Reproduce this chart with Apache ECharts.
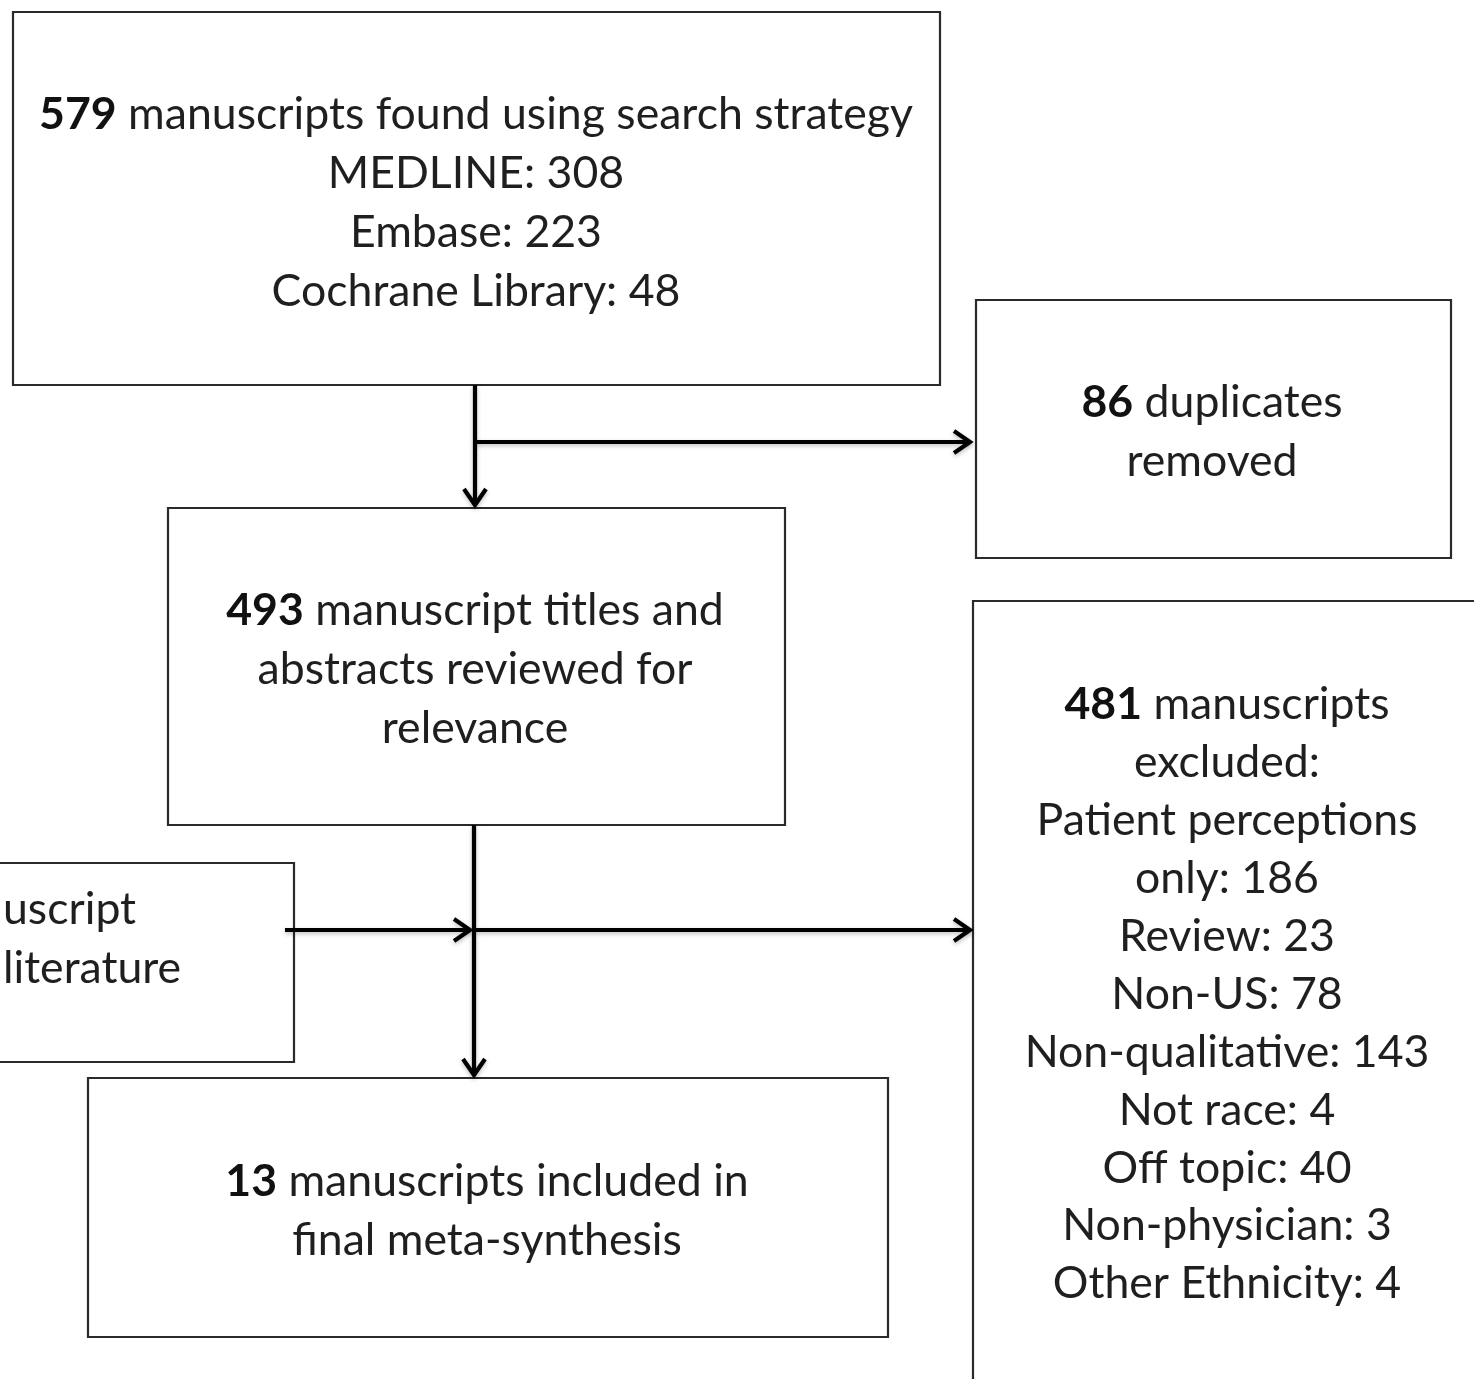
<!DOCTYPE html>
<html>
<head>
<meta charset="utf-8">
<script src="https://cdn.jsdelivr.net/npm/echarts@6/dist/echarts.min.js"></script>
<style>
  html, body { margin: 0; padding: 0; background: #fff; }
  #chart { width: 1474px; height: 1379px; }
</style>
</head>
<body>
<div id="chart"></div>
<script>
// ---- Data (counts) ----
const searchTotal = 579;
const sourceNames = ['MEDLINE', 'Embase', 'Cochrane Library'];
const sourceCounts = [308, 223, 48];
const duplicatesRemoved = 86;
const screenedCount = 493;
const excludedTotal = 481;
const exclusionReasons = ['Review', 'Non-US', 'Non-qualitative', 'Not race', 'Off topic', 'Non-physician', 'Other Ethnicity'];
const exclusionCounts = [23, 78, 143, 4, 40, 3, 4];
const patientPerceptionsOnly = 186;
const includedCount = 13;

// ---- Text content per box ----
const boxTexts = [
  ['{b|' + searchTotal + '} manuscripts found using search strategy']
    .concat(sourceNames.map((n, i) => n + ': ' + sourceCounts[i])),
  ['{b|' + duplicatesRemoved + '} duplicates', 'removed'],
  ['{b|' + screenedCount + '} manuscript titles and', 'abstracts reviewed for', 'relevance'],
  ['uscript', 'literature'],
  ['{b|' + includedCount + '} manuscripts included in', 'final meta-synthesis'],
  ['{b|' + excludedTotal + '} manuscripts', 'excluded:', 'Patient perceptions', 'only: ' + patientPerceptionsOnly]
    .concat(exclusionReasons.map((n, i) => n + ': ' + exclusionCounts[i]))
];

// ---- Layout (pixel space of the diagram) ----
const boxRects = [
  [13, 12, 940, 385],
  [976, 300, 1451, 558],
  [168, 508, 785, 825],
  [-20, 863, 294, 1062],
  [88, 1078, 888, 1337],
  [973, 601, 1490, 1400]
];
const textAnchors = [
  { x: 476, y: 115, step: 59, align: 'center' },
  { x: 1212, y: 403, step: 59, align: 'center' },
  { x: 475, y: 611, step: 59, align: 'center' },
  { x: 3, y: 910, step: 59, align: 'left' },
  { x: 487, y: 1182, step: 59, align: 'center' },
  { x: 1227, y: 705, step: 57.9, align: 'center' }
];
const arrows = [
  [[475, 385], [475, 505]],
  [[475, 442], [970, 442]],
  [[474, 825], [474, 1075]],
  [[285, 930], [470, 930]],
  [[474, 930], [970, 930]]
];

const FONT = 'Lato, "Open Sans", sans-serif';
const FONT_SIZE = 44.6;
const TEXT_COLOR = '#1f1f1f';

const chart = echarts.init(document.getElementById('chart'), null, { renderer: 'canvas' });

const option = {
  backgroundColor: '#ffffff',
  animation: false,
  grid: { left: 0, right: 0, top: 0, bottom: 0 },
  xAxis: { type: 'value', min: 0, max: 1474, show: false },
  yAxis: { type: 'value', min: 0, max: 1379, inverse: true, show: false },
  series: [
    {
      type: 'custom',
      name: 'boxes',
      coordinateSystem: 'cartesian2d',
      clip: false,
      data: boxRects,
      renderItem: function (params, api) {
        const p0 = api.coord([api.value(0), api.value(1)]);
        const p1 = api.coord([api.value(2), api.value(3)]);
        return {
          type: 'rect',
          shape: { x: p0[0], y: p0[1], width: p1[0] - p0[0], height: p1[1] - p0[1] },
          style: { fill: '#ffffff', stroke: '#2a2a2a', lineWidth: 2.2 }
        };
      }
    },
    {
      type: 'custom',
      name: 'arrows',
      coordinateSystem: 'cartesian2d',
      clip: false,
      data: arrows.map(a => [a[0][0], a[0][1], a[1][0], a[1][1]]),
      renderItem: function (params, api) {
        const a = api.coord([api.value(0), api.value(1)]);
        const b = api.coord([api.value(2), api.value(3)]);
        const dx = b[0] - a[0], dy = b[1] - a[1];
        const len = Math.sqrt(dx * dx + dy * dy);
        const ux = dx / len, uy = dy / len;
        const hl = 16, hw = 11;
        const c1 = [b[0] - ux * hl - uy * hw, b[1] - uy * hl + ux * hw];
        const c2 = [b[0] - ux * hl + uy * hw, b[1] - uy * hl - ux * hw];
        const st = { stroke: '#000', lineWidth: 4.2, fill: null, lineJoin: 'miter', lineCap: 'butt',
                     shadowColor: 'rgba(0,0,0,0.25)', shadowBlur: 4, shadowOffsetY: 2 };
        return {
          type: 'group',
          children: [
            { type: 'line', shape: { x1: a[0], y1: a[1], x2: b[0] - ux * 1, y2: b[1] - uy * 1 }, style: st },
            { type: 'polyline', shape: { points: [c1, [b[0], b[1]], c2] }, style: st }
          ]
        };
      }
    },
    {
      type: 'custom',
      name: 'texts',
      coordinateSystem: 'cartesian2d',
      clip: false,
      data: textAnchors.map(t => [t.x, t.y]),
      renderItem: function (params, api) {
        const idx = params.dataIndex;
        const anc = textAnchors[idx];
        const lines = boxTexts[idx];
        const children = lines.map(function (line, i) {
          const p = api.coord([anc.x, anc.y + i * anc.step]);
          return {
            type: 'text',
            x: p[0], y: p[1],
            style: {
              text: line,
              fill: TEXT_COLOR,
              fontFamily: FONT,
              fontSize: FONT_SIZE,
              align: anc.align,
              verticalAlign: 'middle',
              rich: { b: { fontWeight: 'bold', fontFamily: FONT, fontSize: FONT_SIZE, fill: '#111' } }
            }
          };
        });
        return { type: 'group', children: children };
      }
    }
  ]
};

chart.setOption(option);
</script>
</body>
</html>
